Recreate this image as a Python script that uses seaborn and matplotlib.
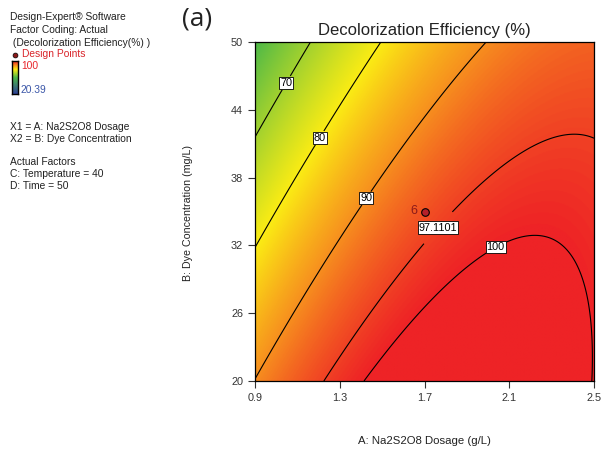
import numpy as np
import pandas as pd
import seaborn as sns
import matplotlib
matplotlib.use("Agg")
import matplotlib.pyplot as plt
from matplotlib.colors import LinearSegmentedColormap, Normalize

# ---- data ----
# points lying on the drawn contour lines (A: dosage g/L, B: dye mg/L, level %)
contour_level = [70, 70, 70,
                 80, 80, 80, 80,
                 90, 90, 90,
                 97.1101, 97.1101, 97.1101, 97.1101, 97.1101, 97.1101, 97.1101,
                 100, 100, 100, 100, 100, 100, 100]
contour_A = [1.17, 0.90, 1.037,
             1.50, 0.90, 1.198, 0.98,
             1.99, 0.90, 1.416,
             1.222, 1.648, 1.823, 1.998, 2.093, 2.429, 2.50,
             1.42, 1.776, 1.965, 2.240, 2.405, 2.472, 2.50]
contour_B = [50.0, 41.4, 46.46,
             50.0, 31.75, 41.6, 34.2,
             50.0, 20.3, 36.27,
             20.0, 30.69, 34.41, 37.78, 39.55, 41.94, 41.59,
             20.0, 27.78, 32.02, 32.64, 30.07, 25.6, 20.1]

levels = [70, 80, 90, 97.1101, 100]
level_labels = ["70", "80", "90", "97.1101", "100"]
label_A = [1.037, 1.198, 1.416, 1.762, 2.031]
label_B = [46.5, 41.6, 36.3, 33.6, 32.0]

design_A = [1.7]
design_B = [35.0]
design_run = ["6"]

x_ticks = [0.9, 1.3, 1.7, 2.1, 2.5]
y_ticks = [20, 26, 32, 38, 44, 50]
resp_low, resp_high = 20.39, 100

# ---- quadratic response-surface fit to the read contour points ----
cA = np.array(contour_A); cB = np.array(contour_B); cz = np.array(contour_level)
M = np.column_stack([np.ones_like(cA), cA, cB, cA * cB, cA ** 2, cB ** 2])
coef, *_ = np.linalg.lstsq(M, cz, rcond=None)

ga = np.linspace(0.9, 2.5, 400)
gb = np.linspace(20, 50, 400)
GA, GB = np.meshgrid(ga, gb)
Z = (coef[0] + coef[1] * GA + coef[2] * GB + coef[3] * GA * GB
     + coef[4] * GA ** 2 + coef[5] * GB ** 2)

sns.set_theme(style="ticks")
plt.rcParams['font.family'] = ['Liberation Sans', 'DejaVu Sans']

cmap = LinearSegmentedColormap.from_list(
    "de", [(0.0, "#2e3f98"), (0.5, "#4cb848"), (0.75, "#fbec14"),
           (0.87, "#f7931e"), (1.0, "#ee2326")])
cmap.set_over("#ee2326")
norm = Normalize(vmin=resp_low, vmax=resp_high)

fig = plt.figure(figsize=(6.01, 4.5), dpi=100)
ax = fig.add_axes([255 / 601, 1 - 381 / 450, 339 / 601, 339 / 450])

ax.imshow(np.minimum(Z, resp_high), origin="lower", extent=[0.9, 2.5, 20, 50],
          aspect="auto", cmap=cmap, norm=norm, interpolation="bilinear")
cs = ax.contour(GA, GB, Z, levels=levels, colors="black", linewidths=0.8)
fmt = {lv: lab for lv, lab in zip(levels, level_labels)}
txts = ax.clabel(cs, levels=levels, fmt=fmt, fontsize=7.8, inline=True,
                 inline_spacing=2, manual=list(zip(label_A, label_B)))
for t in txts:
    t.set_color("black")
    t.set_rotation(0)
    t.set_bbox(dict(facecolor="white", edgecolor="black", linewidth=0.6, pad=0.8))

dp = pd.DataFrame({"A": design_A, "B": design_B})
sns.scatterplot(data=dp, x="A", y="B", ax=ax, s=30, color="#b5202a",
                edgecolor="black", linewidth=0.8, zorder=5, legend=False)
for a, b, r in zip(design_A, design_B, design_run):
    ax.annotate(r, (a, b), xytext=(-8, 0.5), textcoords="offset points",
                ha="center", va="center", fontsize=9, color="#8b1a1a")

ax.set_xlim(0.9, 2.5)
ax.set_ylim(20, 50)
ax.set_xticks(x_ticks)
ax.set_xticklabels([f"{v:.1f}" for v in x_ticks])
ax.set_yticks(y_ticks)
ax.set_yticklabels([str(v) for v in y_ticks])
ax.tick_params(axis="both", direction="out", length=5, width=0.8,
               labelsize=7.8, colors="#333333", labelcolor="#333333")
for s in ax.spines.values():
    s.set_color("black")
    s.set_linewidth(0.9)
ax.set_xlabel("")
ax.set_ylabel("")

fig.text(424 / 601, 1 - 441 / 450, "A: Na2S2O8 Dosage (g/L)", ha="center",
         va="center", fontsize=8.2, color="#222222")
fig.text(188 / 601, 1 - 213 / 450, "B: Dye Concentration (mg/L)", ha="center",
         va="center", rotation=90, fontsize=7.7, color="#222222")
fig.text(424 / 601, 1 - 30 / 450, "Decolorization Efficiency (%)", ha="center",
         va="center", fontsize=12, color="#222222")
fig.text(182 / 601, 1 - 19 / 450, "(a)", ha="left", va="center", fontsize=19,
         family=["Open Sans", "DejaVu Sans"], color="#222222")

# ---- left information block ----
info = [(17, "Design-Expert® Software", "#222222"),
        (30, "Factor Coding: Actual", "#222222"),
        (43, " (Decolorization Efficiency(%) )", "#222222"),
        (127, "X1 = A: Na2S2O8 Dosage", "#222222"),
        (139, "X2 = B: Dye Concentration", "#222222"),
        (162, "Actual Factors", "#222222"),
        (174, "C: Temperature = 40", "#222222"),
        (186, "D: Time = 50", "#222222")]
for y, s, c in info:
    fig.text(10 / 601, 1 - y / 450, s, ha="left", va="center", fontsize=7.4, color=c)
fig.text(22 / 601, 1 - 54 / 450, "Design Points", ha="left", va="center",
         fontsize=7.4, color="#d9252b")
fig.text(21 / 601, 1 - 66 / 450, "100", ha="left", va="center", fontsize=7.4,
         color="#e8262c")
fig.text(21 / 601, 1 - 90 / 450, "20.39", ha="left", va="center", fontsize=7.4,
         color="#3a56a8")
fig.add_artist(plt.Line2D([15 / 601], [1 - 55 / 450], marker="o", markersize=3.5,
                          color="#8b1a1a", markeredgecolor="black",
                          markeredgewidth=0.5, transform=fig.transFigure))
cax = fig.add_axes([12 / 601, 1 - 94 / 450, 6 / 601, 33 / 450])
grad = np.linspace(resp_low, resp_high, 100).reshape(-1, 1)
cax.imshow(grad, origin="lower", aspect="auto", cmap=cmap, norm=norm)
cax.set_xticks([]); cax.set_yticks([])
for s in cax.spines.values():
    s.set_color("black"); s.set_linewidth(1.0)

fig.savefig("out.png", dpi=100)
